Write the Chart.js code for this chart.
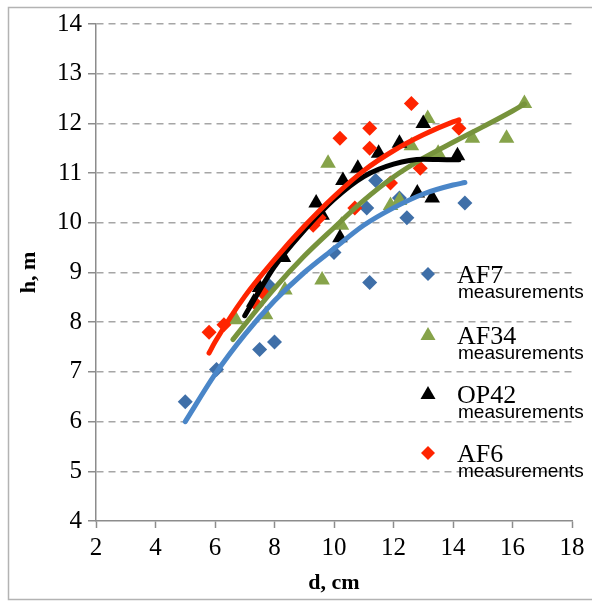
<!DOCTYPE html>
<html>
<head>
<meta charset="utf-8">
<script src="https://cdn.jsdelivr.net/npm/chart.js@4/dist/chart.umd.min.js"></script>
<style>
  html, body { margin: 0; padding: 0; background: #fff; }
  #wrap { position: relative; width: 592px; height: 605px; }
</style>
</head>
<body>
<div id="wrap"><canvas id="hd-chart" width="592" height="605"></canvas></div>
<script>
// measured trees: diameter d (cm) vs height h (m)
const af7D = [5.0, 6.05, 7.5, 8.0, 7.8, 10.0, 11.1, 11.2, 11.4, 12.2, 12.45, 14.4];
const af7H = [6.4, 7.05, 7.45, 7.6, 8.75, 9.4, 10.3, 8.8, 10.85, 10.5, 10.1, 10.4];

const af34D = [6.7, 7.7, 8.35, 9.6, 9.8, 10.25, 11.9, 12.2, 12.6, 13.15, 13.5, 14.65, 15.8, 16.4];
const af34H = [8.05, 8.15, 8.65, 8.85, 11.2, 9.95, 10.35, 10.45, 11.55, 12.1, 11.4, 11.7, 11.7, 12.4];

const op42D = [7.3, 7.5, 8.3, 9.4, 9.6, 10.2, 10.3, 10.8, 11.5, 12.2, 12.8, 13.0, 13.3, 14.15];
const op42H = [8.4, 8.7, 9.3, 10.4, 10.15, 9.7, 10.85, 11.1, 11.4, 11.6, 10.6, 12.0, 10.5, 11.35];

const af6D = [5.8, 6.3, 7.4, 7.6, 9.3, 9.5, 10.2, 10.7, 11.2, 11.2, 11.9, 12.6, 12.9, 14.2];
const af6H = [7.8, 7.95, 8.35, 8.6, 9.95, 10.1, 11.7, 10.3, 11.9, 11.5, 10.8, 12.4, 11.1, 11.9];

// trend curves, sampled along d
const af7TrendD = [5, 6, 7, 8, 9, 10, 11, 12, 13, 14, 14.4];
const af7TrendH = [6.0, 6.95, 7.75, 8.43, 9.0, 9.48, 9.95, 10.3, 10.58, 10.76, 10.81];

const af34TrendD = [6.6, 7, 8, 9, 10, 11, 12, 13, 14, 15, 16, 16.4];
const af34TrendH = [7.65, 7.95, 8.68, 9.33, 9.9, 10.45, 10.92, 11.3, 11.62, 11.93, 12.25, 12.39];

const op42TrendD = [7, 8, 9, 10, 11, 12, 13, 14, 14.2];
const op42TrendH = [8.13, 9.12, 9.85, 10.47, 10.93, 11.18, 11.28, 11.27, 11.27];

const af6TrendD = [5.8, 6, 7, 8, 9, 10, 11, 12, 13, 14, 14.2];
const af6TrendH = [7.38, 7.6, 8.52, 9.26, 9.93, 10.53, 11.05, 11.45, 11.77, 12.03, 12.07];

const legendNames = ['AF7', 'AF34', 'OP42', 'AF6'];
const legendSub = 'measurements';

const xMin = 2, xMax = 18, xStep = 2;
const yMin = 4, yMax = 14, yStep = 1;

const BLUE_PT = '#3f6fa8';
const BLUE_LN = '#4a86c8';
const GREEN_PT = '#86a34a';
const GREEN_LN = '#77933c';
const RED = '#ff2400';
const BLACK = '#000000';
const AXIS = '#8c8c8c';
const GRID = '#a6a6a6';

const toPoints = (xs, ys) => xs.map((x, i) => ({ x, y: ys[i] }));

function scatterSet(label, xs, ys, color, style, radius, order) {
  return {
    type: 'scatter',
    label,
    data: toPoints(xs, ys),
    pointStyle: style,
    pointRadius: radius,
    pointBackgroundColor: color,
    pointBorderColor: color,
    pointBorderWidth: 0,
    order,
  };
}

function trendSet(xs, ys, color, order) {
  return {
    type: 'line',
    data: toPoints(xs, ys),
    borderColor: color,
    borderWidth: 5,
    borderCapStyle: 'round',
    cubicInterpolationMode: 'monotone',
    pointRadius: 0,
    fill: false,
    order,
  };
}

// white page with a thin frame
const framePlugin = {
  id: 'frame',
  beforeDraw(chart) {
    const { ctx } = chart;
    ctx.save();
    ctx.fillStyle = '#fff';
    ctx.fillRect(0, 0, chart.width, chart.height);
    ctx.strokeStyle = '#b3b3b3';
    ctx.lineWidth = 1.5;
    ctx.strokeRect(8.5, 7.5, 600, 592);
    ctx.restore();
  },
};

function drawMarker(ctx, kind, x, y, color) {
  ctx.fillStyle = color;
  ctx.beginPath();
  if (kind === 'diamond') {
    ctx.moveTo(x, y - 7);
    ctx.lineTo(x + 7, y);
    ctx.lineTo(x, y + 7);
    ctx.lineTo(x - 7, y);
  } else {
    ctx.moveTo(x, y - 8);
    ctx.lineTo(x + 7.5, y + 5);
    ctx.lineTo(x - 7.5, y + 5);
  }
  ctx.closePath();
  ctx.fill();
}

// two-line legend entries inside the plot area
const legendPlugin = {
  id: 'twoLineLegend',
  afterDraw(chart) {
    const { ctx } = chart;
    const markers = [
      ['diamond', BLUE_PT],
      ['triangle', GREEN_PT],
      ['triangle', BLACK],
      ['diamond', RED],
    ];
    const rows = [274, 335, 394, 453];
    ctx.save();
    legendNames.forEach((name, i) => {
      const y = rows[i];
      drawMarker(ctx, markers[i][0], 428, y, markers[i][1]);
      ctx.fillStyle = '#000';
      ctx.textAlign = 'left';
      ctx.textBaseline = 'alphabetic';
      ctx.font = '26px "Liberation Serif"';
      ctx.fillText(name, 457, y + 9);
      ctx.font = '19px "Liberation Sans"';
      ctx.fillText(legendSub, 458, y + 24);
    });
    ctx.restore();
  },
};

new Chart(document.getElementById('hd-chart'), {
  type: 'scatter',
  data: {
    datasets: [
      trendSet(af6TrendD, af6TrendH, RED, 0),
      trendSet(op42TrendD, op42TrendH, BLACK, 1),
      trendSet(af34TrendD, af34TrendH, GREEN_LN, 2),
      trendSet(af7TrendD, af7TrendH, BLUE_LN, 3),
      scatterSet('AF6', af6D, af6H, RED, 'rectRot', 7.5, 4),
      scatterSet('OP42', op42D, op42H, BLACK, 'triangle', 9, 5),
      scatterSet('AF34', af34D, af34H, GREEN_PT, 'triangle', 9, 6),
      scatterSet('AF7', af7D, af7H, BLUE_PT, 'rectRot', 7.5, 7),
    ],
  },
  options: {
    responsive: false,
    animation: false,
    events: [],
    layout: { padding: { left: 0, top: 24, right: 20, bottom: 0 } },
    plugins: {
      legend: { display: false },
      tooltip: { enabled: false },
    },
    scales: {
      x: {
        type: 'linear',
        min: xMin,
        max: xMax,
        afterFit(scale) { scale.height = 84; },
        ticks: {
          stepSize: xStep,
          color: '#000',
          padding: 5,
          maxRotation: 0,
          font: { family: 'Liberation Serif', size: 25 },
        },
        grid: {
          drawOnChartArea: false,
          drawTicks: true,
          tickLength: 7,
          tickColor: AXIS,
          tickWidth: 1.5,
        },
        border: { color: AXIS, width: 1.5 },
        title: {
          display: true,
          text: 'd, cm',
          color: '#000',
          padding: { top: 0, bottom: 8 },
          font: { family: 'Liberation Serif', size: 22, weight: 'bold' },
        },
      },
      y: {
        type: 'linear',
        min: yMin,
        max: yMax,
        afterFit(scale) { scale.width = 96; },
        ticks: {
          stepSize: yStep,
          color: '#000',
          padding: 6,
          font: { family: 'Liberation Serif', size: 25 },
        },
        grid: {
          color: (ctx) => (ctx.tick && ctx.tick.value === yMin ? 'rgba(0,0,0,0)' : GRID),
          lineWidth: 1.5,
          drawTicks: true,
          tickLength: 8,
          tickColor: AXIS,
          tickWidth: 1.5,
        },
        border: { color: AXIS, width: 1.5, dash: [7, 5] },
        title: {
          display: true,
          text: 'h, m',
          color: '#000',
          padding: { top: 16, bottom: 0 },
          font: { family: 'Liberation Serif', size: 22, weight: 'bold' },
        },
      },
    },
  },
  plugins: [framePlugin, legendPlugin],
});
</script>
</body>
</html>
